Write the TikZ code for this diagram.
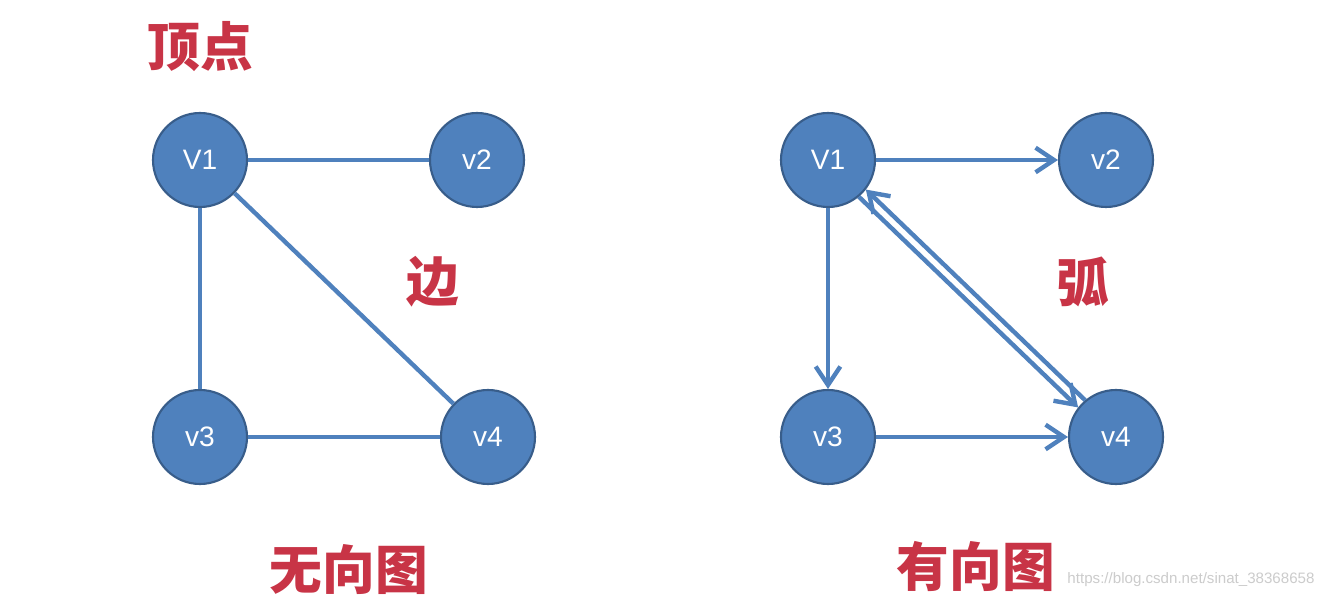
\documentclass[tikz,border=0pt]{standalone}
\usepackage{fontspec}
\setmainfont{Liberation Sans}
\newfontfamily\cjk{Noto Sans CJK SC}
\usetikzlibrary{arrows.meta}
\definecolor{nodeblue}{RGB}{79,129,189}
\definecolor{rimblue}{RGB}{56,93,138}
\definecolor{wordred}{RGB}{200,52,70}
\tikzset{
  vertex/.style={circle,fill=nodeblue,draw=rimblue,line width=1.2pt,minimum size=1.88cm,inner sep=0pt,
    text=white,font=\fontsize{16}{18}\selectfont},
  link/.style={draw=nodeblue,line width=2.5pt},
  arcline/.style={link,-{Straight Barb[length=10.5pt,width=14pt]}},
  redword/.style={text=wordred,font=\cjk\bfseries\fontsize{30}{32}\selectfont}
}
\begin{document}
\begin{tikzpicture}
    \useasboundingbox[fill=white] (0,0) rectangle (26.6,-11.96);

    % undirected graph
    \node[vertex] (L1) at (4.0,-3.2) {V1};
    \node[vertex] (L2) at (9.54,-3.2) {v2};
    \node[vertex] (L3) at (4.0,-8.74) {v3};
    \node[vertex] (L4) at (9.76,-8.74) {v4};

    \draw[link] (L1)--(L2);
    \draw[link] (L1)--(L3);
    \draw[link] (L3)--(L4);
    \draw[link] (L1)--(L4);

    % directed graph
    \node[vertex] (R1) at (16.56,-3.2) {V1};
    \node[vertex] (R2) at (22.12,-3.2) {v2};
    \node[vertex] (R3) at (16.56,-8.74) {v3};
    \node[vertex] (R4) at (22.32,-8.74) {v4};

    \draw[arcline] (R1)--(R2);
    \draw[arcline] (R1)--(R3);
    \draw[arcline] (R3)--(R4);
    \draw[arcline] (R1.-50)--(R4.142);
    \draw[arcline] (R4.130)--(R1.-38);

    % words
    \node[redword] (vertexword) at (4.0,-0.94) {顶点};
    \node[redword] (edgeword) at (8.66,-5.64) {边};
    \node[redword] (arcword) at (21.66,-5.64) {弧};
    \node[redword] (undirword) at (6.98,-11.4) {无向图};
    \node[redword] (dirword) at (19.52,-11.32) {有向图};

    \node[text=black!20,font=\fontsize{8.6}{10}\selectfont] (mark) at (23.82,-11.6) {https://blog.csdn.net/sinat\_38368658};
\end{tikzpicture}
\end{document}
